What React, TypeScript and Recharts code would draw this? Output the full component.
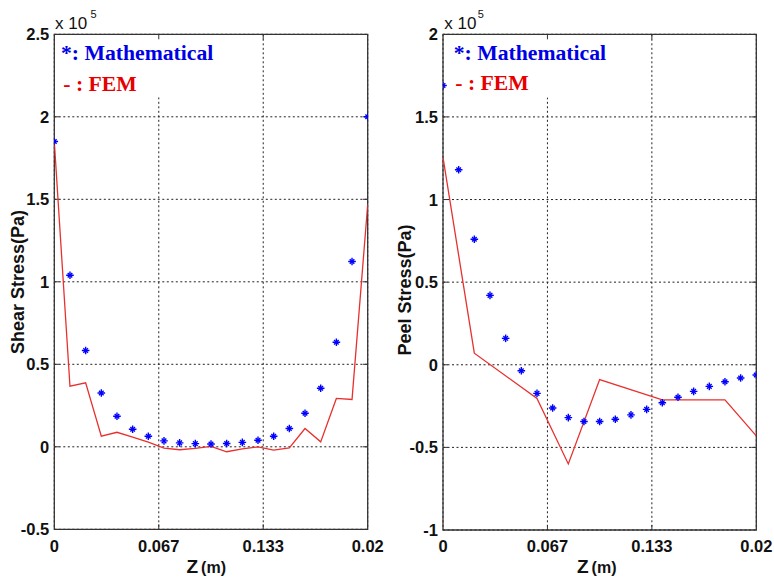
import React from 'react';
import { ComposedChart, Line, Scatter, XAxis, YAxis, CartesianGrid, ReferenceArea, ReferenceLine } from 'recharts';

const zGrid = [0, 0.01, 0.02, 0.03, 0.04, 0.05, 0.06, 0.07, 0.08, 0.09, 0.1, 0.11, 0.12, 0.13, 0.14, 0.15, 0.16, 0.17, 0.18, 0.19, 0.2];
const shearMath = [1.85, 1.04, 0.584, 0.326, 0.185, 0.106, 0.064, 0.036, 0.024, 0.019, 0.017, 0.02, 0.027, 0.04, 0.064, 0.111, 0.203, 0.355, 0.634, 1.123, 2.0];
const shearFem = [1.85, 0.367, 0.388, 0.064, 0.088, 0.058, 0.028, -0.008, -0.018, -0.01, 0.002, -0.03, -0.012, 0.0, -0.02, -0.006, 0.111, 0.03, 0.293, 0.287, 1.468];
const peelMath = [1.69, 1.18, 0.76, 0.42, 0.16, -0.036, -0.173, -0.262, -0.32, -0.343, -0.343, -0.33, -0.303, -0.27, -0.23, -0.197, -0.161, -0.131, -0.103, -0.08, -0.062];
const peelFemZ = [0, 0.02, 0.06, 0.08, 0.1, 0.14, 0.18, 0.2];
const peelFem = [1.255, 0.07, -0.204, -0.6, -0.09, -0.212, -0.212, -0.43];

const xTicks = [0, 0.06667, 0.13333, 0.2];
const xTickLabels = ['0', '0.067', '0.133', '0.02'];
const shearTicks = [-0.5, 0, 0.5, 1, 1.5, 2, 2.5];
const peelTicks = [-1, -0.5, 0, 0.5, 1, 1.5, 2];

const mk = (zs: number[], vs: number[]) => zs.map((z, i) => ({ z, v: vs[i] }));

const TICK_FONT = "'Liberation Sans', Arial, sans-serif";
const SERIF = "'Liberation Serif', 'Times New Roman', serif";

const Star = (props: any) => {
  const { cx, cy } = props;
  if (cx == null || cy == null) return null;
  return (
    <g stroke="#0000ff" strokeWidth={1.4}>
      <line x1={cx - 3.8} y1={cy} x2={cx + 3.8} y2={cy} />
      <line x1={cx} y1={cy - 3.8} x2={cx} y2={cy + 3.8} />
      <line x1={cx - 2.3} y1={cy - 2.3} x2={cx + 2.3} y2={cy + 2.3} />
      <line x1={cx - 2.3} y1={cy + 2.3} x2={cx + 2.3} y2={cy - 2.3} />
    </g>
  );
};

const XTick = (props: any) => {
  const { x, y, payload } = props;
  const idx = xTicks.findIndex((t) => Math.abs(t - payload.value) < 1e-6);
  return (
    <text x={x} y={y + 22.4} textAnchor="middle" fontFamily={TICK_FONT} fontWeight="bold" fontSize={16.5} fill="#111">
      {idx >= 0 ? xTickLabels[idx] : ''}
    </text>
  );
};

const YTick = (props: any) => {
  const { x, y, payload } = props;
  return (
    <text x={x - 5} y={y} textAnchor="end" dominantBaseline="central" fontFamily={TICK_FONT} fontWeight="bold" fontSize={16.5} fill="#111">
      {String(payload.value)}
    </text>
  );
};

type PanelProps = {
  left: number;
  margin: { top: number; right: number; bottom: number; left: number };
  yWidth: number;
  yTicks: number[];
  math: { z: number; v: number }[];
  fem: { z: number; v: number }[];
};

const Panel = ({ left, margin, yWidth, yTicks, math, fem }: PanelProps) => {
  const yMin = yTicks[0];
  const yMax = yTicks[yTicks.length - 1];
  const xMin = xTicks[0];
  const xMax = xTicks[xTicks.length - 1];
  const tickLenY = ((yMax - yMin) * 5) / 495;
  const tickLenX = ((xMax - xMin) * 5) / 313;
  const legendBottom = yMax - ((yMax - yMin) * 63) / 495;
  return (
    <div style={{ position: 'absolute', left, top: 0 }}>
      <ComposedChart width={387} height={578} margin={margin}>
        <CartesianGrid stroke="#222" strokeDasharray="2 2.5" strokeWidth={1} />
        <XAxis
          dataKey="z"
          type="number"
          domain={[xMin, xMax]}
          ticks={xTicks}
          interval={0}
          allowDataOverflow
          axisLine={false}
          tickLine={false}
          tickSize={0}
          tickMargin={0}
          height={30}
          tick={<XTick />}
        />
        <YAxis
          type="number"
          domain={[yMin, yMax]}
          ticks={yTicks}
          interval={0}
          allowDataOverflow
          axisLine={false}
          tickLine={false}
          tickSize={0}
          tickMargin={0}
          width={yWidth}
          tick={<YTick />}
        />
        <ReferenceArea x1={xMin + 0.004} x2={0.11} y1={legendBottom} y2={yMax} fill="#ffffff" fillOpacity={1} stroke="none" />
        {xTicks.slice(1, -1).map((t) => (
          <ReferenceLine key={'xb' + t} segment={[{ x: t, y: yMin }, { x: t, y: yMin + tickLenY }]} stroke="#333" strokeWidth={1} />
        ))}
        {xTicks.slice(1, -1).map((t) => (
          <ReferenceLine key={'xt' + t} segment={[{ x: t, y: yMax }, { x: t, y: yMax - tickLenY }]} stroke="#333" strokeWidth={1} />
        ))}
        {yTicks.slice(1, -1).map((t) => (
          <ReferenceLine key={'yl' + t} segment={[{ x: xMin, y: t }, { x: xMin + tickLenX, y: t }]} stroke="#333" strokeWidth={1} />
        ))}
        {yTicks.slice(1, -1).map((t) => (
          <ReferenceLine key={'yr' + t} segment={[{ x: xMax, y: t }, { x: xMax - tickLenX, y: t }]} stroke="#333" strokeWidth={1} />
        ))}
        <ReferenceArea x1={xMin} x2={xMax} y1={yMin} y2={yMax} fill="none" stroke="#333" strokeWidth={1.3} />
        <Line data={fem} dataKey="v" stroke="#e8302f" strokeWidth={1.3} dot={false} isAnimationActive={false} />
        <Scatter data={math} dataKey="v" shape={<Star />} isAnimationActive={false} />
      </ComposedChart>
    </div>
  );
};

const Overlay = () => (
  <svg width={774} height={578} style={{ position: 'absolute', left: 0, top: 0, pointerEvents: 'none' }}>
    {/* left panel annotations */}
    <text x={55} y={29.3} fontFamily={TICK_FONT} fontSize={17} fill="#111">x 10</text>
    <text x={90.5} y={18.3} fontFamily={TICK_FONT} fontSize={11} fill="#111">5</text>
    <text x={61} y={60} fontFamily={SERIF} fontWeight="bold" fontSize={21.7} fill="#0000e6">*: Mathematical</text>
    <text x={63.3} y={90.5} fontFamily={SERIF} fontWeight="bold" fontSize={21.7} fill="#e60000">- : FEM</text>
    <g transform="translate(23.5,282) rotate(-90)">
      <text x={0} y={0} textAnchor="middle" fontFamily={TICK_FONT} fontWeight="bold" fontSize={18} fill="#111">Shear Stress(Pa)</text>
    </g>
    <text x={186.5} y={573} fontFamily={TICK_FONT} fontWeight="bold" fill="#111">
      <tspan fontSize={19}>Z</tspan>
      <tspan fontSize={16} dx={3}>(m)</tspan>
    </text>

    {/* right panel annotations */}
    <text x={444.3} y={29.3} fontFamily={TICK_FONT} fontSize={17} fill="#111">x 10</text>
    <text x={477.7} y={18.3} fontFamily={TICK_FONT} fontSize={11} fill="#111">5</text>
    <text x={453.7} y={60} fontFamily={SERIF} fontWeight="bold" fontSize={21.7} fill="#0000e6">*: Mathematical</text>
    <text x={455.3} y={90} fontFamily={SERIF} fontWeight="bold" fontSize={21.7} fill="#e60000">- : FEM</text>
    <g transform="translate(411,290) rotate(-90)">
      <text x={0} y={0} textAnchor="middle" fontFamily={TICK_FONT} fontWeight="bold" fontSize={18} fill="#111">Peel Stress(Pa)</text>
    </g>
    <text x={577} y={573} fontFamily={TICK_FONT} fontWeight="bold" fill="#111">
      <tspan fontSize={19}>Z</tspan>
      <tspan fontSize={16} dx={3}>(m)</tspan>
    </text>
  </svg>
);

export default function App() {
  return (
    <div style={{ position: 'absolute', left: 0, top: 0, width: 774, height: 578, background: '#fff', overflow: 'hidden' }}>
      <Panel
        left={0}
        margin={{ top: 34.3, right: 19.3, bottom: 18.7, left: 0 }}
        yWidth={54.3}
        yTicks={shearTicks}
        math={mk(zGrid, shearMath)}
        fem={mk(zGrid, shearFem)}
      />
      <Panel
        left={387}
        margin={{ top: 34.3, right: 17.7, bottom: 18, left: 0 }}
        yWidth={56}
        yTicks={peelTicks}
        math={mk(zGrid, peelMath)}
        fem={mk(peelFemZ, peelFem)}
      />
      <Overlay />
    </div>
  );
}
